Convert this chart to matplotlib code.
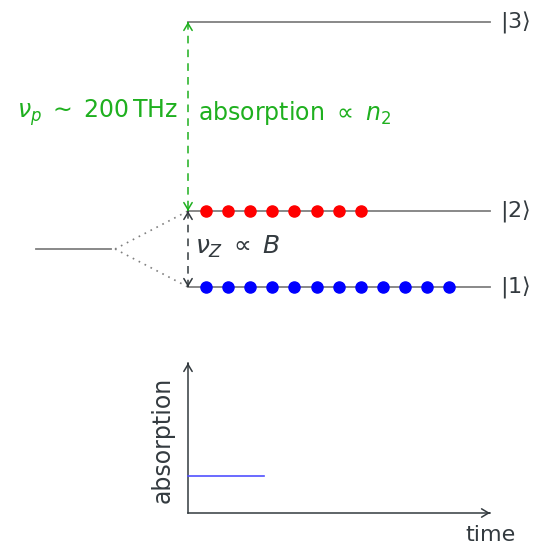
import numpy as np
import matplotlib
matplotlib.use('Agg')
import matplotlib.pyplot as plt

plt.rcParams['font.family'] = ['DejaVu Sans']
plt.rcParams['mathtext.fontset'] = 'dejavusans'

# level scheme (figure pixel units, y grows downward)
level_names = [r'$|1\rangle$', r'$|2\rangle$', r'$|3\rangle$']
level_y = [287, 211, 22]
level_x = [188, 490]
degen_y = 249
degen_x = [36, 111]

# populations: number of atoms sitting on |1> and |2>
n_atoms = [12, 8]
atom_x0, atom_dx = 206, 22.1
atom_colors = ['#0000ff', '#ff0000']

# absorption signal inset
signal_t = [0, 76]
signal_level = 37

green = '#1fb01f'
gray = '#7f7f7f'
ink = '#333a3f'

fig = plt.figure(figsize=(5.36, 5.47), dpi=100)
ax = fig.add_axes([0, 0, 1, 1])
ax.set_xlim(0, 536)
ax.set_ylim(547, 0)
ax.axis('off')


def head(x, y, dx, dy, color):
    # small open arrow head whose tip is at (x, y), pointing along (dx, dy)
    ax.annotate('', xy=(x, y), xytext=(x - dx, y - dy),
                arrowprops=dict(arrowstyle='->,head_length=0.5,head_width=0.3',
                                color=color, lw=1.1, shrinkA=0, shrinkB=0))


def dashed_double(x, y0, y1, color):
    ax.plot([x, x], [y0, y1], color=color, lw=1.1, ls=(0, (5, 4)))
    head(x, y0, 0, np.sign(y0 - y1), color)
    head(x, y1, 0, np.sign(y1 - y0), color)


# levels
for name, y in zip(level_names, level_y):
    ax.plot(level_x, [y, y], color=gray, lw=1.3, zorder=1)
    ax.text(500, y, name, fontsize=16, color=ink, va='center', ha='left')
ax.plot(degen_x, [degen_y, degen_y], color=gray, lw=1.3)
for y in level_y[:2]:
    ax.plot([degen_x[1] + 4, level_x[0]], [degen_y, y], color=gray, lw=1.2, ls=(0, (1, 3)))

# atoms
for n, y, c in zip(n_atoms, level_y[:2], atom_colors):
    xs = atom_x0 + atom_dx * np.arange(n)
    ax.plot(xs, [y] * n, 'o', color=c, ms=8, zorder=3)

# transitions
dashed_double(level_x[0], level_y[2], level_y[1], green)
dashed_double(level_x[0], level_y[1], level_y[0], ink)
ax.text(178, 113, r'$\nu_p\;\sim\;200\,\mathrm{THz}$', fontsize=17, color=green,
        ha='right', va='center')
ax.text(198, 113, r'absorption $\propto$ $n_2$', fontsize=17, color=green,
        ha='left', va='center')
ax.text(195, 247, r'$\nu_Z\;\propto\;B$', fontsize=18, color=ink, ha='left', va='center')

# absorption vs time inset
ox, oy = 188, 513
ax.plot([ox, 490], [oy, oy], color=ink, lw=1.1)
ax.plot([ox, ox], [oy, 363], color=ink, lw=1.1)
head(490, oy, 1, 0, ink)
head(ox, 363, 0, -1, ink)
ax.plot([ox + t for t in signal_t], [oy - signal_level] * 2, color='#5050ff', lw=1.2)
ax.text(490, 535, 'time', fontsize=16, color=ink, ha='center', va='center')
ax.text(163, 440, 'absorption', fontsize=17, color=ink, ha='center', va='center',
        rotation=90)

fig.savefig('out.png', dpi=100)
